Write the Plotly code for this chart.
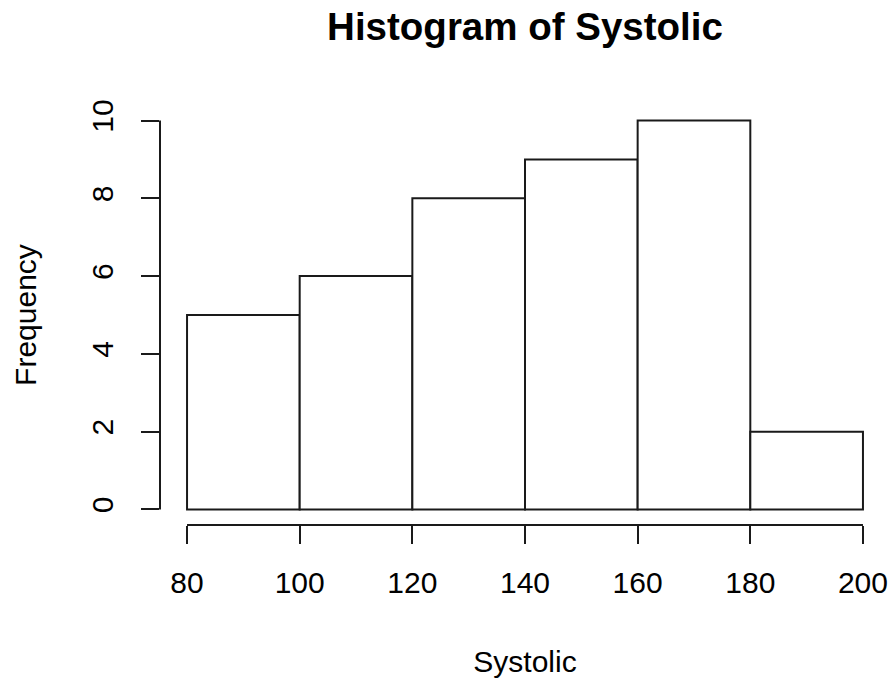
import plotly.graph_objects as go

# Histogram of systolic blood pressure: bin edges and counts per bin
bin_edges = [80, 100, 120, 140, 160, 180, 200]
counts = [5, 6, 8, 9, 10, 2]
x_ticks = [80, 100, 120, 140, 160, 180, 200]
y_ticks = [0, 2, 4, 6, 8, 10]

centers = [(a + b) / 2 for a, b in zip(bin_edges[:-1], bin_edges[1:])]
widths = [b - a for a, b in zip(bin_edges[:-1], bin_edges[1:])]

FONT = "Liberation Sans, Arial, sans-serif"
INK = "#1a1a1a"
LW = 2

# R-style axis range: 4% padding on each side of the data
x_pad = 0.04 * (bin_edges[-1] - bin_edges[0])
y_pad = 0.04 * (max(y_ticks) - min(y_ticks))

fig = go.Figure(
    go.Bar(
        x=centers,
        y=counts,
        width=widths,
        marker=dict(color="white", line=dict(color=INK, width=LW)),
        hoverinfo="x+y",
    )
)

fig.update_layout(
    width=893,
    height=683,
    margin=dict(l=160, r=3, t=105, b=158),
    paper_bgcolor="white",
    plot_bgcolor="white",
    showlegend=False,
    font=dict(family=FONT, color="#000", size=30),
    title=dict(
        text="<b>Histogram of Systolic</b>",
        font=dict(family=FONT, size=38.5, color="#000"),
        x=0.5,
        xanchor="center",
        xref="paper",
        y=1 - 27 / 683,
        yref="container",
        yanchor="middle",
    ),
    xaxis=dict(
        range=[bin_edges[0] - x_pad, bin_edges[-1] + x_pad],
        tickvals=x_ticks,
        ticktext=[str(v) for v in x_ticks],
        ticks="outside",
        ticklen=18,
        tickwidth=LW,
        tickcolor=INK,
        ticklabelstandoff=13,
        showline=False,
        showgrid=False,
        zeroline=False,
        tickfont=dict(size=30, color="#000"),
        title=dict(text="Systolic", font=dict(size=30, color="#000"), standoff=52),
    ),
    yaxis=dict(
        range=[min(y_ticks) - y_pad, max(y_ticks) + y_pad],
        tickvals=y_ticks,
        ticktext=[str(v) for v in y_ticks],
        tickangle=-90,
        ticks="outside",
        ticklen=18,
        tickwidth=LW,
        tickcolor=INK,
        ticklabelstandoff=16,
        showline=False,
        showgrid=False,
        zeroline=False,
        tickfont=dict(size=30, color="#000"),
        title=dict(text="Frequency", font=dict(size=30, color="#000"), standoff=40),
    ),
    shapes=[
        # x axis line spanning only the tick range
        dict(type="line", xref="x", yref="paper",
             x0=x_ticks[0], x1=x_ticks[-1], y0=0, y1=0,
             line=dict(color=INK, width=LW)),
        # y axis line spanning only the tick range
        dict(type="line", xref="paper", yref="y",
             x0=0, x1=0, y0=y_ticks[0], y1=y_ticks[-1],
             line=dict(color=INK, width=LW)),
    ],
)

fig.write_html("out.html")
